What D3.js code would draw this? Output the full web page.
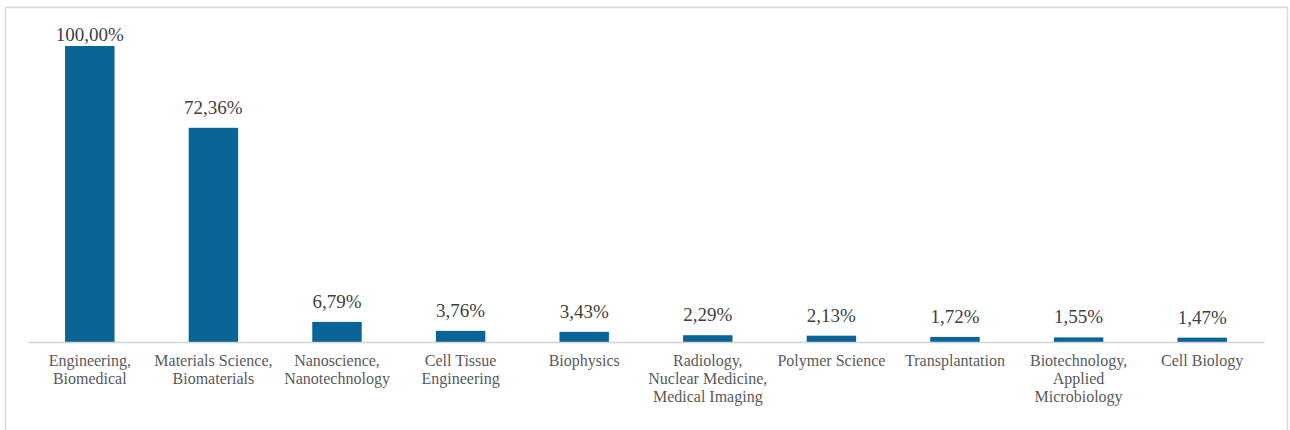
<!DOCTYPE html>
<html>
<head>
<meta charset="utf-8">
<script src="https://cdn.jsdelivr.net/npm/d3@7"></script>
<style>
  html, body { margin: 0; padding: 0; background: #fff; }
  svg { display: block; }
  text { font-family: 'Liberation Serif', 'Times New Roman', serif; }
</style>
</head>
<body>
<svg id="chart" width="1290" height="430"></svg>
<script>
const categories = [
  ["Engineering,", "Biomedical"],
  ["Materials Science,", "Biomaterials"],
  ["Nanoscience,", "Nanotechnology"],
  ["Cell Tissue", "Engineering"],
  ["Biophysics"],
  ["Radiology,", "Nuclear Medicine,", "Medical Imaging"],
  ["Polymer Science"],
  ["Transplantation"],
  ["Biotechnology,", "Applied", "Microbiology"],
  ["Cell Biology"]
];
const values = [100.00, 72.36, 6.79, 3.76, 3.43, 2.29, 2.13, 1.72, 1.55, 1.47];
const valueLabels = ["100,00%", "72,36%", "6,79%", "3,76%", "3,43%", "2,29%", "2,13%", "1,72%", "1,55%", "1,47%"];

const svg = d3.select("#chart");
const W = 1290, H = 430;

// outer frame (no bottom edge visible)
svg.append("path")
  .attr("d", `M5.5,${H} V7.5 H1287.5 V${H}`)
  .attr("fill", "none")
  .attr("stroke", "#d9d9d9")
  .attr("stroke-width", 1.5);

const left = 28, right = 1264, baseY = 342, topY = 46;
const idx = categories.map((d, i) => i);
const x = d3.scaleBand().domain(idx).range([left, right]).paddingInner(0.6).paddingOuter(0.3);
const y = d3.scaleLinear().domain([0, 100]).range([baseY, topY]);

svg.append("g").selectAll("rect")
  .data(values)
  .join("rect")
  .attr("x", (d, i) => x(i))
  .attr("width", x.bandwidth())
  .attr("y", d => y(d))
  .attr("height", d => baseY - y(d))
  .attr("fill", "#086595");

// baseline axis
const axis = d3.axisBottom(x).tickSize(0).tickFormat("");
const gx = svg.append("g").attr("transform", `translate(0,${baseY})`).call(axis);
gx.select(".domain").attr("stroke", "#d0d4d8").attr("stroke-width", 1.5);

// value labels
svg.append("g").selectAll("text")
  .data(values)
  .join("text")
  .attr("x", (d, i) => x(i) + x.bandwidth() / 2)
  .attr("y", d => Math.max(y(d) - 14, 41))
  .attr("text-anchor", "middle")
  .style("font-family", "'Liberation Serif', 'Times New Roman', serif")
  .attr("font-size", 19)
  .attr("fill", "#404040")
  .text((d, i) => valueLabels[i]);

// category labels
const cat = svg.append("g").selectAll("text")
  .data(categories)
  .join("text")
  .attr("x", (d, i) => x(i) + x.bandwidth() / 2)
  .attr("y", 366)
  .attr("text-anchor", "middle")
  .style("font-family", "'Liberation Serif', 'Times New Roman', serif")
  .attr("font-size", 16)
  .attr("fill", "#595959");
cat.selectAll("tspan")
  .data((d, i) => d.map(t => ({t, i})))
  .join("tspan")
  .attr("x", d => x(d.i) + x.bandwidth() / 2)
  .attr("dy", (d, j) => j === 0 ? 0 : 18)
  .text(d => d.t);
</script>
</body>
</html>
